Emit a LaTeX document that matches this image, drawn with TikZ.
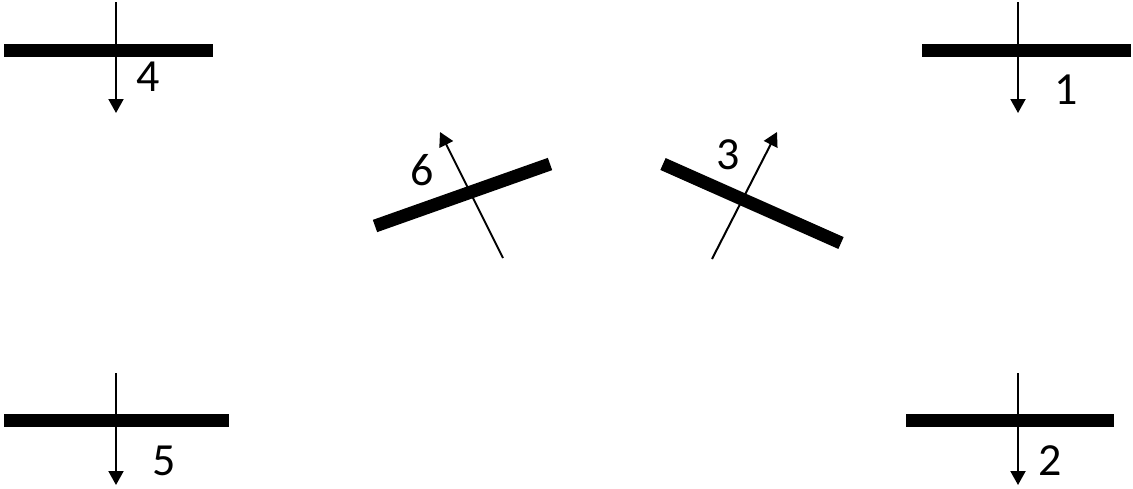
\documentclass[tikz,border=0pt]{standalone}
\usepackage{fontspec}
\setmainfont{Carlito}
\usetikzlibrary{arrows.meta}
\begin{document}
\begin{tikzpicture}[x=1pt,y=-1pt,
  mirror/.style={line width=13pt,line cap=butt},
  ray/.style={line width=2pt,-{Triangle[length=14pt,width=15pt]}},
  num/.style={font=\fontsize{46}{50}\selectfont,inner sep=0pt}]
\useasboundingbox (0,0) rectangle (1133,488);
% 4
\coordinate (b4a) at (4,50); \coordinate (b4b) at (213,50);
\coordinate (r4a) at (116,2); \coordinate (r4b) at (116,113);
\draw[mirror] (b4a) -- (b4b);
\draw[ray] (r4a) -- (r4b);
\node[num] (n4) at (148,77) {4};
% 1
\coordinate (b1a) at (922,50); \coordinate (b1b) at (1131,50);
\coordinate (r1a) at (1018,2); \coordinate (r1b) at (1018,113);
\draw[mirror] (b1a) -- (b1b);
\draw[ray] (r1a) -- (r1b);
\node[num] (n1) at (1066,90) {1};
% 5
\coordinate (b5a) at (4,420.5); \coordinate (b5b) at (229,420.5);
\coordinate (r5a) at (116,373); \coordinate (r5b) at (116,485);
\draw[mirror] (b5a) -- (b5b);
\draw[ray] (r5a) -- (r5b);
\node[num] (n5) at (164,461) {5};
% 2
\coordinate (b2a) at (906,420.5); \coordinate (b2b) at (1114,420.5);
\coordinate (r2a) at (1018,373); \coordinate (r2b) at (1018,485);
\draw[mirror] (b2a) -- (b2b);
\draw[ray] (r2a) -- (r2b);
\node[num] (n2) at (1050,461) {2};
% 6
\coordinate (b6a) at (375,226); \coordinate (b6b) at (550,164);
\coordinate (r6a) at (503,258); \coordinate (r6b) at (440,132);
\draw[mirror] (b6a) -- (b6b);
\draw[ray] (r6a) -- (r6b);
\node[num] (n6) at (422,170) {6};
% 3
\coordinate (b3a) at (663,164); \coordinate (b3b) at (841,243);
\coordinate (r3a) at (712,259); \coordinate (r3b) at (777,132);
\draw[mirror] (b3a) -- (b3b);
\draw[ray] (r3a) -- (r3b);
\node[num] (n3) at (728,155) {3};
\end{tikzpicture}
\end{document}
